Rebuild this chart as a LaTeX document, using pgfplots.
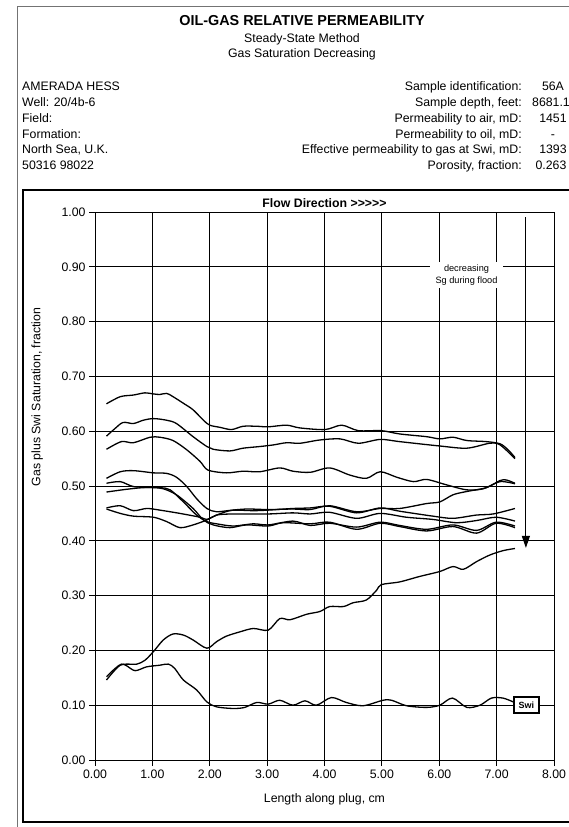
\documentclass[border=0pt]{standalone}
\usepackage{fontspec}
\setmainfont{Liberation Sans}
\usepackage{pgfplots}
\pgfplotsset{compat=1.18}
\usetikzlibrary{arrows.meta}
\newcommand\bodyfont{\fontsize{12.3bp}{14bp}\selectfont}
\begin{document}
\begin{tikzpicture}
\path[use as bounding box] (0,0) rectangle (569bp,-827bp);
\begin{scope}[x=1bp,y=-1bp]
\draw[black!55, line width=0.6bp] (17,827) -- (17,6) -- (569,6);
\draw[black, line width=1.1bp] (569,190) -- (23,190) -- (23,822) -- (569,822);
\node[anchor=base, font=\bfseries\fontsize{14.4bp}{16bp}\selectfont, inner sep=0] at (302,25.2) {OIL-GAS RELATIVE PERMEABILITY};
\node[anchor=base, font=\bodyfont, inner sep=0] at (302,42.4) {Steady-State Method};
\node[anchor=base, font=\bodyfont, inner sep=0] at (302,57.6) {Gas Saturation Decreasing};
\begin{scope}[every node/.style={font=\bodyfont, inner sep=0}]
\node[anchor=base west] at (22,90.4) {AMERADA HESS};
\node[anchor=base west] at (22,106.4) {Well: 20/4b-6};
\node[anchor=base west] at (22,122.4) {Field:};
\node[anchor=base west] at (22,138.4) {Formation:};
\node[anchor=base west] at (22,153.9) {North Sea, U.K.};
\node[anchor=base west] at (22,169.9) {50316 98022};
\node[anchor=base east] at (522,90.4) {Sample identification:};
\node[anchor=base east] at (522,106.4) {Sample depth, feet:};
\node[anchor=base east] at (522,122.4) {Permeability to air, mD:};
\node[anchor=base east] at (522,138.4) {Permeability to oil, mD:};
\node[anchor=base east] at (522,153.9) {Effective permeability to gas at Swi, mD:};
\node[anchor=base east] at (522,169.9) {Porosity, fraction:};
\node[anchor=base] at (553,90.4) {56A};
\node[anchor=base] at (551,106.4) {8681.1};
\node[anchor=base] at (553,122.4) {1451};
\node[anchor=base] at (553,138.4) {-};
\node[anchor=base] at (553,153.9) {1393};
\node[anchor=base] at (551,169.9) {0.263};
\node[anchor=base, font=\bfseries\bodyfont] at (324.5,207.4) {Flow Direction >{}>{}>{}>{}>};
\node[anchor=base] at (324.5,802.4) {Length along plug, cm};
\node[anchor=base, rotate=90] at (40.4,397) {Gas plus Swi Saturation, fraction};
\end{scope}
\end{scope}
\begin{axis}[
  at={(95bp,-760bp)}, anchor=south west, scale only axis,
  width=459bp, height=548bp,
  xmin=0, xmax=8, ymin=0, ymax=1,
  xtick={0,1,2,3,4,5,6,7,8},
  ytick={0,0.1,0.2,0.3,0.4,0.5,0.6,0.7,0.8,0.9,1},
  grid=major, major grid style={line width=0.8bp, black},
  axis line style={line width=0.9bp},
  tick pos=left, tick align=outside, major tick length=6bp,
  tick style={black, line width=0.8bp},
  ticklabel style={font=\bodyfont},
  /pgf/number format/assume math mode=true,
  xticklabel style={/pgf/number format/fixed, /pgf/number format/fixed zerofill, /pgf/number format/precision=2},
  yticklabel style={/pgf/number format/fixed, /pgf/number format/fixed zerofill, /pgf/number format/precision=2},
  curve/.style={black, solid, line width=1.3bp, smooth, tension=0.5, mark=none},
  clip=false,
]
% C1
\addplot[curve] coordinates {(0.20,0.650)(0.44,0.663)(0.67,0.666)(0.87,0.670)(1.02,0.668)(1.13,0.667)(1.25,0.669)(1.36,0.663)(1.54,0.651)(1.71,0.639)(1.89,0.620)(2.00,0.611)(2.18,0.607)(2.38,0.603)(2.58,0.609)(2.82,0.609)(3.02,0.608)(3.34,0.611)(3.57,0.606)(4.01,0.603)(4.30,0.611)(4.59,0.601)(4.99,0.601)(5.31,0.595)(5.78,0.590)(6.01,0.586)(6.24,0.589)(6.48,0.583)(6.82,0.581)(7.06,0.577)(7.20,0.566)(7.32,0.552)};
% C2
\addplot[curve] coordinates {(0.20,0.591)(0.35,0.605)(0.49,0.616)(0.67,0.614)(0.84,0.620)(1.02,0.623)(1.25,0.620)(1.42,0.614)(1.71,0.590)(1.95,0.572)(2.06,0.567)(2.35,0.564)(2.58,0.569)(2.87,0.572)(3.11,0.575)(3.34,0.579)(3.57,0.578)(3.92,0.584)(4.27,0.586)(4.59,0.578)(4.97,0.585)(5.31,0.581)(6.01,0.573)(6.48,0.569)(6.88,0.578)(7.06,0.575)(7.32,0.550)};
% C3
\addplot[curve] coordinates {(0.20,0.567)(0.46,0.581)(0.67,0.579)(0.96,0.589)(1.13,0.589)(1.36,0.583)(1.60,0.566)(1.83,0.545)(1.97,0.529)(2.29,0.524)(2.58,0.527)(2.87,0.526)(3.22,0.533)(3.45,0.527)(3.75,0.525)(4.09,0.533)(4.44,0.520)(4.73,0.514)(4.97,0.526)(5.26,0.516)(5.55,0.508)(5.78,0.512)(6.13,0.502)(6.48,0.493)(6.77,0.495)(7.06,0.508)(7.32,0.504)};
% B
\addplot[curve] coordinates {(0.20,0.460)(0.44,0.464)(0.67,0.455)(0.90,0.459)(1.13,0.456)(1.48,0.450)(1.83,0.443)(1.95,0.439)(2.12,0.447)(2.35,0.455)(2.64,0.458)(3.02,0.457)(3.45,0.458)(3.75,0.457)(4.09,0.464)(4.56,0.453)(4.97,0.459)(5.31,0.459)(5.78,0.468)(6.01,0.471)(6.24,0.484)(6.48,0.490)(6.82,0.497)(7.06,0.510)(7.17,0.511)(7.32,0.505)};
% D
\addplot[curve] coordinates {(0.20,0.514)(0.44,0.526)(0.67,0.528)(1.02,0.524)(1.25,0.523)(1.42,0.516)(1.60,0.499)(1.77,0.477)(1.95,0.459)(2.12,0.453)(2.41,0.456)(2.76,0.455)(3.02,0.456)(3.45,0.459)(3.75,0.460)(4.09,0.463)(4.56,0.451)(4.97,0.460)(5.31,0.454)(5.89,0.445)(6.24,0.441)(6.65,0.447)(6.94,0.449)(7.32,0.459)};
% E
\addplot[curve] coordinates {(0.20,0.458)(0.44,0.450)(0.67,0.445)(1.02,0.443)(1.25,0.435)(1.48,0.424)(1.71,0.429)(1.95,0.438)(2.12,0.447)(2.41,0.449)(3.02,0.449)(3.45,0.451)(3.75,0.449)(4.09,0.452)(4.56,0.441)(4.97,0.450)(5.43,0.443)(5.89,0.439)(6.30,0.433)(6.65,0.437)(6.99,0.443)(7.32,0.436)};
% F1
\addplot[curve] coordinates {(0.20,0.505)(0.44,0.508)(0.67,0.499)(1.02,0.497)(1.19,0.495)(1.42,0.484)(1.71,0.459)(1.89,0.438)(2.06,0.429)(2.35,0.424)(2.64,0.429)(3.02,0.427)(3.28,0.433)(3.75,0.431)(4.09,0.434)(4.56,0.421)(4.97,0.432)(5.31,0.426)(5.78,0.418)(6.24,0.426)(6.65,0.414)(6.99,0.432)(7.32,0.424)};
% F2
\addplot[curve] coordinates {(0.20,0.489)(0.55,0.494)(0.84,0.497)(1.13,0.497)(1.31,0.493)(1.54,0.471)(1.77,0.447)(1.95,0.435)(2.12,0.431)(2.41,0.427)(2.76,0.431)(3.02,0.429)(3.45,0.436)(3.75,0.428)(4.09,0.432)(4.56,0.425)(4.97,0.434)(5.31,0.428)(5.78,0.421)(6.24,0.429)(6.65,0.419)(6.99,0.434)(7.32,0.427)};
% R
\addplot[curve] coordinates {(0.20,0.146)(0.32,0.161)(0.44,0.173)(0.55,0.175)(0.73,0.175)(0.87,0.182)(1.02,0.198)(1.19,0.219)(1.36,0.230)(1.54,0.228)(1.71,0.219)(1.95,0.204)(2.12,0.216)(2.29,0.226)(2.53,0.234)(2.76,0.240)(3.02,0.237)(3.22,0.258)(3.40,0.256)(3.69,0.266)(3.92,0.271)(4.09,0.280)(4.33,0.280)(4.50,0.287)(4.73,0.292)(4.91,0.310)(4.99,0.320)(5.31,0.325)(5.66,0.335)(6.01,0.344)(6.24,0.353)(6.42,0.348)(6.65,0.362)(6.88,0.374)(7.11,0.382)(7.32,0.386)};
% S
\addplot[curve] coordinates {(0.20,0.152)(0.35,0.167)(0.46,0.175)(0.55,0.172)(0.70,0.163)(0.90,0.170)(1.13,0.173)(1.28,0.175)(1.39,0.167)(1.54,0.146)(1.77,0.128)(1.95,0.106)(2.12,0.097)(2.41,0.094)(2.61,0.096)(2.82,0.105)(3.02,0.102)(3.22,0.109)(3.45,0.100)(3.66,0.108)(3.86,0.100)(4.12,0.114)(4.38,0.105)(4.67,0.099)(5.02,0.109)(5.17,0.109)(5.43,0.099)(5.78,0.096)(6.01,0.100)(6.23,0.113)(6.48,0.096)(6.71,0.100)(6.91,0.113)(7.11,0.113)(7.29,0.106)};
\node[fill=white, inner sep=0, minimum width=73bp, minimum height=26bp, align=center, font=\fontsize{9.2bp}{11.5bp}\selectfont] at (axis cs:6.475,0.885) {decreasing\\Sg during flood};
\draw[-{Triangle[length=12bp,width=8bp]}, line width=1.1bp] (axis cs:7.51,0.99) -- (axis cs:7.51,0.387);
\node[draw, line width=1.2bp, fill=white, minimum width=25bp, minimum height=16bp, inner sep=0, font=\bfseries\fontsize{9bp}{10bp}\selectfont] at (axis cs:7.52,0.1004) {Swi};
\end{axis}
\end{tikzpicture}
\end{document}
